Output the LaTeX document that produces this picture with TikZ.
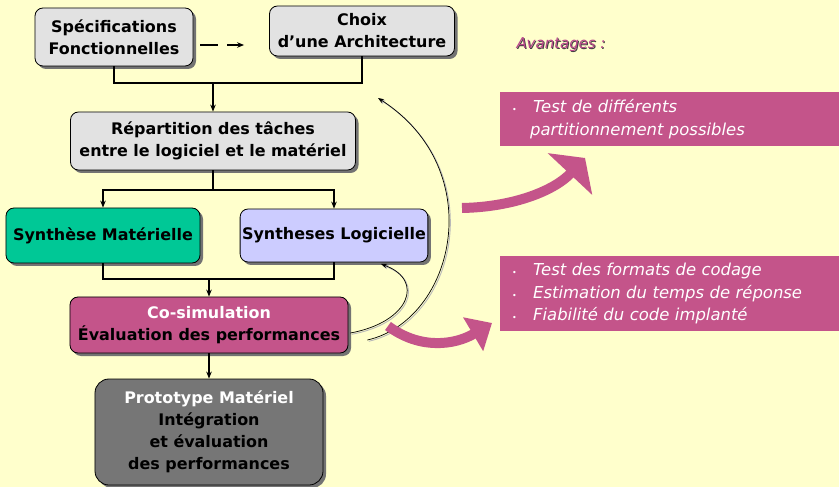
\documentclass[tikz,border=0pt]{standalone}
\usepackage{fontspec}
\setmainfont{DejaVu Sans}
\usetikzlibrary{arrows.meta,shadows}

\definecolor{fond}{HTML}{FFFFCC}
\definecolor{rose}{HTML}{C4548A}
\definecolor{vert}{HTML}{00C896}
\definecolor{lavande}{HTML}{CCCCFF}
\definecolor{grisclair}{HTML}{E2E2E2}
\definecolor{grisfonce}{HTML}{767676}
\definecolor{prune}{HTML}{B8468A}

\newcommand{\puce}{\makebox[21bp][l]{\fontsize{8}{8}\selectfont\textbullet}}

\begin{document}
\begin{tikzpicture}[x=1bp,y=-1bp]

\tikzset{boite/.style={rectangle,rounded corners=8bp,draw,line width=0.8bp,fill=grisclair,align=center,inner sep=2bp,font=\fontsize{16}{22}\selectfont\bfseries,drop shadow={shadow xshift=3bp,shadow yshift=-3bp,fill=black!55,opacity=1}}}
\tikzset{fleche/.style={-{Stealth[length=7bp,width=5.5bp]},line width=1.6bp}}
\tikzset{lien/.style={line width=1.6bp}}
\tikzset{avantage/.style={rectangle,fill=rose,text=white,anchor=west,align=left,text width=315bp,inner xsep=12bp,inner ysep=0pt,font=\fontsize{16.5}{22.5}\selectfont\itshape}}
\tikzset{retour/.style={-{Stealth[length=6bp,width=4.5bp]},line width=0.7bp,preaction={draw,gray!55,line width=0.9bp,transform canvas={xshift=1.3bp,yshift=-1.3bp}}}}
\tikzset{grossefleche/.style={rose,line width=10bp}}

\useasboundingbox (0,0) rectangle (839,487);
\fill[fond] (0,0) rectangle (839,487);

% les blocs du flot de conception
\draw (114,37) node[boite,minimum width=158bp,minimum height=58bp](spec) {Spécifications\\Fonctionnelles};
\draw (362,31) node[boite,minimum width=185bp,minimum height=50bp](archi) {Choix\\d'une Architecture};
\draw (213,141) node[boite,minimum width=285bp,minimum height=58bp](repart) {Répartition des tâches\\entre le logiciel et le matériel};
\draw (103,235.5) node[boite,fill=vert,minimum width=194bp,minimum height=55bp](mat) {Synthèse Matérielle};
\draw (334,235.5) node[boite,fill=lavande,minimum width=186bp,minimum height=53bp](log) {Syntheses Logicielle};
\draw (209,325) node[boite,fill=rose,minimum width=278bp,minimum height=56bp](cosim) {{\color{white}Co-simulation}\\Évaluation des performances};
\draw (209,432) node[boite,fill=grisfonce,minimum width=228bp,minimum height=106bp,rounded corners=14bp](proto) {{\color{white}Prototype Matériel}\\Intégration\\et évaluation\\des performances};

\coordinate (j1) at (213,83);
\coordinate (j2) at (213,190);
\coordinate (j3) at (209,279);

\draw[fleche,dash pattern=on 18bp off 9bp] ([shift={(7,8)}]spec.east) -- ([shift={(-25,14)}]archi.west);
\draw[lien] (spec.south) |- (j1) -| (archi.south);
\draw[fleche] (j1) -- (repart.north);
\draw[lien] (repart.south) -- (j2);
\draw[fleche] (j2) -| (mat.north);
\draw[fleche] (j2) -| (log.north);
\draw[lien] (mat.south) |- (j3) -| (log.south);
\draw[fleche] (j3) -- (cosim.north);
\draw[fleche] (cosim.south) -- (proto.north);

% boucles de retour
\coordinate (r1) at (378,98);
\coordinate (r2) at (381,264);
\draw[retour] ([shift={(19,15)}]cosim.east) .. controls (455,320) and (490,170) .. (r1);
\draw[retour] ([shift={(2,8)}]cosim.east) .. controls (410,322) and (425,280) .. (r2);

% avantages
\draw (514,46) node[anchor=west,text=black!75,font=\fontsize{15}{17}\selectfont\itshape](titreombre) {Avantages :};
\draw (513,45) node[anchor=west,text=prune,font=\fontsize{15}{17}\selectfont\itshape](titre) {Avantages :};
\draw (500,119) node[avantage,minimum height=54bp](av1) {\puce Test de différents\\\hspace*{18bp}partitionnement possibles};
\draw (500,293.5) node[avantage,minimum height=75bp](av2) {\puce Test des formats de codage\\\puce Estimation du temps de réponse\\\puce Fiabilité du code implanté};

\draw[grossefleche,-{Triangle[width=60bp,length=22bp]}] (462,208) .. controls (515,207) and (555,190) .. (585,158);
\draw[grossefleche,-{Triangle[width=38bp,length=22bp]}] (388,326) .. controls (420,350) and (455,345) .. (492,323);

\end{tikzpicture}
\end{document}
